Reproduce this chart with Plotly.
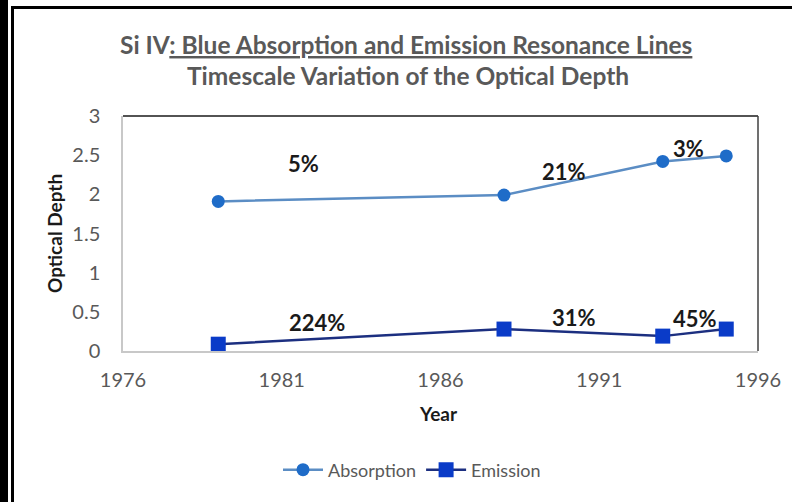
import plotly.graph_objects as go

# data
years = [1979, 1988, 1993, 1995]
absorption = [1.91, 1.99, 2.42, 2.49]
emission = [0.087, 0.28, 0.19, 0.28]

abs_labels = ["5%", "21%", "3%"]
abs_label_pos = [(1981.7, 2.40), (1989.9, 2.29), (1993.8, 2.59)]
em_labels = ["224%", "31%", "45%"]
em_label_pos = [(1982.1, 0.37), (1990.2, 0.43), (1994.0, 0.42)]

W, H = 792, 502
L, R, T, B = 123, 34, 116, 151
PW, PH = W - L - R, H - T - B


def px(x):
    return (x - L) / PW


def py(y):
    return (H - B - y) / PH


FONT = "Lato"
GREY = "#595959"
DARK = "#1a1a1a"

fig = go.Figure()
fig.add_trace(go.Scatter(
    x=years, y=absorption, name="Absorption", mode="lines+markers",
    line=dict(color="#5b8dc4", width=2.5),
    marker=dict(symbol="circle", size=13, color="#1f6cc8"),
))
fig.add_trace(go.Scatter(
    x=years, y=emission, name="Emission", mode="lines+markers",
    line=dict(color="#1c2f80", width=2.5),
    marker=dict(symbol="square", size=15, color="#0a3bc8"),
))

annos = []
for txt, (x, y) in zip(abs_labels + em_labels, abs_label_pos + em_label_pos):
    annos.append(dict(x=x, y=y, xref="x", yref="y", text="<b>%s</b>" % txt,
                      showarrow=False, font=dict(family=FONT, size=22, color=DARK)))


def paper_text(text, x, y, size, color, angle=0):
    return dict(x=px(x), y=py(y), xref="paper", yref="paper", showarrow=False,
                xanchor="center", yanchor="middle", textangle=angle,
                text=text, font=dict(family=FONT, size=size, color=color))


# titles
annos.append(paper_text("<b>Si IV<u>: Blue Absorption and Emission Resonance Lines</u></b>",
                        406, 45, 24.5, GREY))
annos.append(paper_text("<b>Timescale Variation of the Optical Depth</b>", 408, 75, 24.5, GREY))
# axis titles
annos.append(paper_text("<b>Year</b>", 438, 413, 19, DARK))
annos.append(paper_text("<b>Optical Depth</b>", 54, 234, 19, DARK, angle=-90))

shapes = [
    # plot frame: dark top and right edges
    dict(type="line", xref="paper", yref="paper", x0=0, x1=1, y0=1, y1=1,
         line=dict(color=DARK, width=1.5)),
    dict(type="line", xref="paper", yref="paper", x0=1, x1=1, y0=0, y1=1,
         line=dict(color="#404040", width=1.5)),
    # outer black border of the picture
    dict(type="rect", xref="paper", yref="paper", x0=px(0), x1=px(8), y0=py(H), y1=py(0),
         fillcolor="black", line=dict(width=0)),
    dict(type="line", xref="paper", yref="paper", x0=px(12.5), x1=px(12.5), y0=py(H), y1=py(7.5),
         line=dict(color="black", width=3)),
    dict(type="line", xref="paper", yref="paper", x0=px(11), x1=px(W), y0=py(7.5), y1=py(7.5),
         line=dict(color="black", width=3)),
]

fig.update_layout(
    width=W, height=H,
    margin=dict(l=L, r=R, t=T, b=B),
    paper_bgcolor="white", plot_bgcolor="white",
    font=dict(family=FONT, color=GREY),
    showlegend=True,
    legend=dict(orientation="h", x=px(412), xanchor="center", y=py(470), yanchor="middle",
                font=dict(family=FONT, size=18, color=GREY), itemwidth=40,
                bgcolor="rgba(0,0,0,0)"),
    annotations=annos,
    shapes=shapes,
)
fig.update_xaxes(range=[1976, 1996], tick0=1976, dtick=5, showgrid=False, zeroline=False,
                 showline=True, linecolor="#c8c8c8", linewidth=1.5,
                 ticks="outside", ticklen=10, tickcolor="rgba(0,0,0,0)",
                 tickfont=dict(family=FONT, size=20, color=GREY), automargin=False)
fig.update_yaxes(range=[0, 3], dtick=0.5, showgrid=False, zeroline=False,
                 showline=True, linecolor="#c8c8c8", linewidth=1.5,
                 ticks="outside", ticklen=17, tickcolor="rgba(0,0,0,0)",
                 tickfont=dict(family=FONT, size=20, color=GREY), automargin=False)

fig.write_html("out.html", config={"displayModeBar": False},
               post_script="document.body.style.margin='0';document.body.style.overflow='hidden';")
